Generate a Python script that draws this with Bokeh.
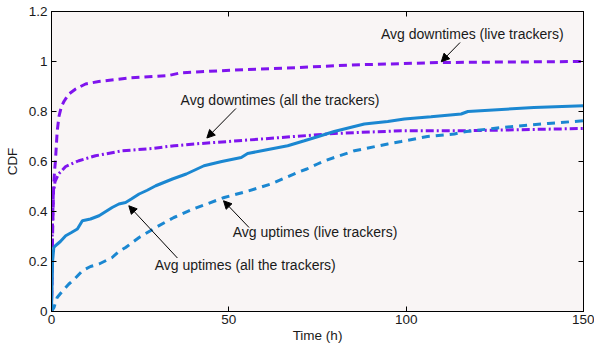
from bokeh.plotting import figure
from bokeh.models import LinearAxis, FixedTicker, Range1d, Arrow, NormalHead
from bokeh.embed import file_html
from bokeh.resources import INLINE
from bokeh.core.properties import value

# ---- data ----
down_live_h = [0, 0.3, 0.6, 0.9, 1.1, 1.6, 2.1, 2.8, 3.5, 4.9, 6.8, 9.6, 13.3, 21.8, 33, 36.5, 42, 55, 70, 84.5, 110, 130, 150]
down_live_v = [0, 0.3, 0.5, 0.57, 0.60, 0.72, 0.78, 0.82, 0.84, 0.87, 0.89, 0.91, 0.92, 0.934, 0.944, 0.955, 0.959, 0.968, 0.976, 0.986, 0.996, 0.998, 1.0]

down_all_h = [0, 0.2, 0.5, 1, 2, 4, 7.7, 12.4, 20, 28.4, 34.6, 42, 50, 64.7, 79.7, 98.6, 117, 135, 150]
down_all_v = [0, 0.3, 0.47, 0.52, 0.55, 0.58, 0.603, 0.623, 0.643, 0.652, 0.663, 0.672, 0.68, 0.696, 0.712, 0.723, 0.723, 0.728, 0.732]

up_all_h = [0, 0.3, 0.65, 1.1, 2.5, 4, 5.5, 7.3, 8.7, 11, 13.4, 17.1, 19, 20.9, 22.5, 24.7, 27, 29.4, 34.1, 38, 43, 48, 53.5, 55.3, 60, 66.6, 71.3, 75, 79.7, 88.2, 94.8, 99.5, 107, 115.5, 117.4, 136, 150]
up_all_v = [0, 0.2, 0.256, 0.263, 0.28, 0.303, 0.315, 0.33, 0.363, 0.37, 0.383, 0.416, 0.43, 0.436, 0.45, 0.47, 0.485, 0.503, 0.53, 0.55, 0.583, 0.60, 0.616, 0.632, 0.645, 0.663, 0.683, 0.699, 0.72, 0.75, 0.76, 0.77, 0.779, 0.79, 0.80, 0.816, 0.823]

up_live_h = [0, 0.7, 1.6, 3, 4.9, 6.5, 8.7, 11, 13.4, 17.1, 19, 20.9, 24.7, 29.4, 34.5, 40, 48.7, 55, 61.9, 69.4, 72, 75, 77, 85.4, 94.8, 98.6, 106, 113.6, 117, 127, 140, 150]
up_live_v = [0, 0.016, 0.056, 0.08, 0.11, 0.13, 0.163, 0.18, 0.19, 0.216, 0.24, 0.256, 0.296, 0.336, 0.376, 0.41, 0.456, 0.48, 0.51, 0.556, 0.57, 0.59, 0.603, 0.643, 0.67, 0.68, 0.70, 0.71, 0.72, 0.736, 0.752, 0.763]

x_ticks = [0, 50, 100, 150]
x_tick_labels = ["0", "50", "100", "150"]
y_ticks = [0, 0.2, 0.4, 0.6, 0.8, 1.0, 1.2]
y_tick_labels = ["0", "0.2", "0.4", "0.6", "0.8", "1", "1.2"]

# annotations: text, text x, text y, arrow start x,y, arrow end x,y
ann_text = ["Avg downtimes (live trackers)", "Avg downtimes (all the trackers)",
            "Avg uptimes (live trackers)", "Avg uptimes (all the trackers)"]
ann_tx = [92.9, 36.4, 51.1, 29.1]
ann_ty = [1.112, 0.848, 0.319, 0.186]
arr_x0 = [115.2, 52.0, 55.7, 35.5]
arr_y0 = [1.076, 0.812, 0.336, 0.214]
arr_x1 = [109.9, 43.8, 48.5, 21.8]
arr_y1 = [0.999, 0.694, 0.443, 0.423]

PURPLE = "#7f14ee"
BLUE = "#1b87d1"
FONT = "Liberation Sans"

p = figure(frame_width=532, frame_height=300, output_backend="svg", toolbar_location=None,
           x_range=Range1d(0, 150), y_range=Range1d(0, 1.2),
           min_border_left=51, min_border_right=11, min_border_top=11, min_border_bottom=35,
           background_fill_color="#f9f5f5", border_fill_color="white")
p.xgrid.visible = False
p.ygrid.visible = False
p.outline_line_color = "black"
p.outline_line_width = 1

p.line(down_live_h, down_live_v, line_color=PURPLE, line_width=3, line_dash="8 5")
p.line(down_all_h, down_all_v, line_color=PURPLE, line_width=3, line_dash="8 3 2 3")
p.line(up_all_h, up_all_v, line_color=BLUE, line_width=3)
p.line(up_live_h, up_live_v, line_color=BLUE, line_width=3, line_dash="8 6")

for i in range(len(ann_text)):
    p.add_layout(Arrow(end=NormalHead(size=8, fill_color="black", line_color="black", line_width=1),
                       x_start=arr_x0[i], y_start=arr_y0[i], x_end=arr_x1[i], y_end=arr_y1[i],
                       line_color="black", line_width=1))
p.text(x=ann_tx, y=ann_ty, text=ann_text, text_font=value(FONT), text_font_size="14px",
       text_color="#1a1a1a", text_baseline="middle", text_align="left")

xa = p.xaxis[0]
ya = p.yaxis[0]
xa.ticker = FixedTicker(ticks=x_ticks)
ya.ticker = FixedTicker(ticks=y_ticks)
xa.major_label_overrides = dict(zip(x_ticks, x_tick_labels))
ya.major_label_overrides = dict(zip(y_ticks, y_tick_labels))
xa.axis_label = "Time (h)"
ya.axis_label = "CDF"
for ax in (xa, ya):
    ax.major_tick_in = 5
    ax.major_tick_out = 0
    ax.minor_tick_line_color = None
    ax.axis_line_color = "black"
    ax.major_label_text_font = FONT
    ax.major_label_text_font_size = "13.5px"
    ax.major_label_text_color = "#1a1a1a"
    ax.axis_label_text_font = FONT
    ax.axis_label_text_font_size = "13.5px"
    ax.axis_label_text_font_style = "normal"
    ax.axis_label_text_color = "#1a1a1a"
xa.major_label_standoff = 3
xa.axis_label_standoff = 1
ya.major_label_standoff = 4
ya.axis_label_standoff = 6

for loc, ticks in (("above", x_ticks), ("right", y_ticks)):
    ax = LinearAxis(ticker=FixedTicker(ticks=ticks), major_label_text_font_size="1px",
                    major_label_text_color=None, major_label_text_alpha=0,
                    major_label_standoff=0, major_tick_in=5, major_tick_out=0,
                    minor_tick_line_color=None, axis_line_color="black")
    p.add_layout(ax, loc)

open("out.html", "w").write(file_html(p, INLINE))
